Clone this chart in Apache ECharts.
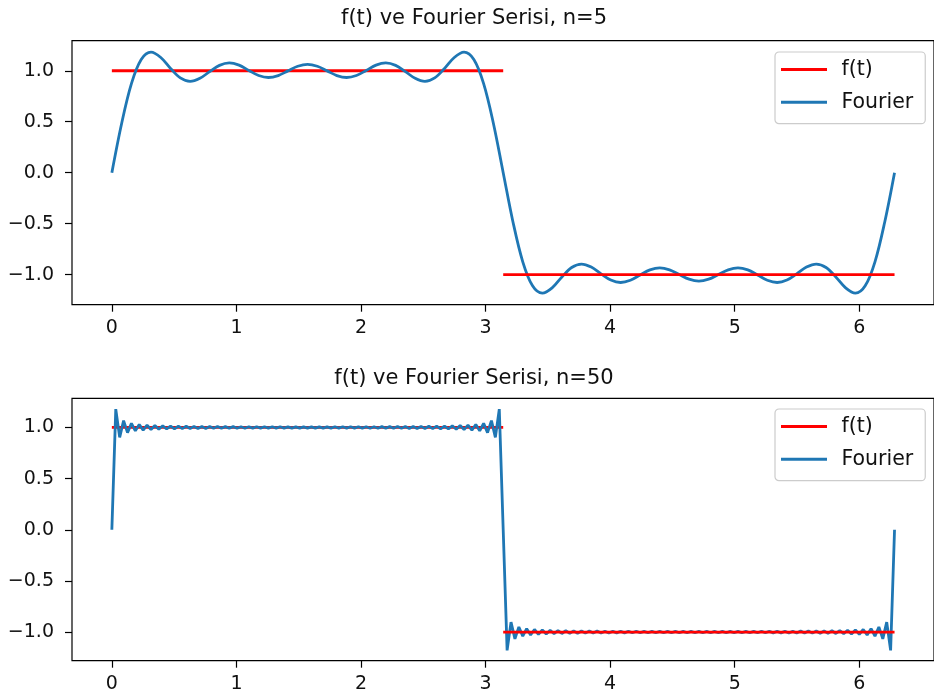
<!DOCTYPE html>
<html><head><meta charset="utf-8">
<script src="https://cdn.jsdelivr.net/npm/echarts@6/dist/echarts.min.js"></script>
<style>html,body{margin:0;padding:0;background:#fff}#c{width:934px;height:698px}</style>
</head><body><div id="c"></div>
<script>
// ---- data ----
const titles = ['f(t) ve Fourier Serisi, n=5', 'f(t) ve Fourier Serisi, n=50'];
const legendNames = ['f(t)', 'Fourier'];
const xTicks = [0, 1, 2, 3, 4, 5, 6];
const yTicks = [-1, -0.5, 0, 0.5, 1];
// f(t): square wave, two level pieces
const fT1 = [0, 3.1416];
const fY1 = [1, 1];
const fT2 = [3.1416, 6.2832];
const fY2 = [-1, -1];
// Fourier partial sum, n=5
const t5 = [0,0.0785,0.1571,0.2356,0.3142,0.3927,0.4712,0.5498,0.6283,0.7069,0.7854,0.8639,0.9425,1.0210,1.0996,1.1781,1.2566,1.3352,1.4137,1.4923,1.5708,1.6493,1.7279,1.8064,1.8850,1.9635,2.0420,2.1206,2.1991,2.2777,2.3562,2.4347,2.5133,2.5918,2.6704,2.7489,2.8274,2.9060,2.9845,3.0631,3.1416,3.2201,3.2987,3.3772,3.4558,3.5343,3.6128,3.6914,3.7699,3.8485,3.9270,4.0055,4.0841,4.1626,4.2412,4.3197,4.3982,4.4768,4.5553,4.6339,4.7124,4.7909,4.8695,4.9480,5.0265,5.1051,5.1836,5.2622,5.3407,5.4193,5.4978,5.5763,5.6549,5.7334,5.8119,5.8905,5.9690,6.0476,6.1261,6.2046,6.2832];
const y5 = [0,0.483,0.874,1.110,1.182,1.130,1.023,0.930,0.896,0.926,0.992,1.053,1.077,1.055,1.003,0.954,0.934,0.953,0.999,1.044,1.063,
1.044,0.999,0.953,0.934,0.954,1.003,1.055,1.077,1.053,0.992,0.926,0.896,0.930,1.023,1.130,1.182,1.110,0.874,0.483,0,
-0.483,-0.874,-1.110,-1.182,-1.130,-1.023,-0.930,-0.896,-0.926,-0.992,-1.053,-1.077,-1.055,-1.003,-0.954,-0.934,-0.953,-0.999,-1.044,-1.063,
-1.044,-0.999,-0.953,-0.934,-0.954,-1.003,-1.055,-1.077,-1.053,-0.992,-0.926,-0.896,-0.930,-1.023,-1.130,-1.182,-1.110,-0.874,-0.483,0];
// Fourier partial sum, n=50 (ripple extrema)
const t50 = [0,0.0314,0.0628,0.0942,0.1257,0.1571,0.1885,0.2199,0.2513,0.2827,0.3142,0.3456,0.3770,0.4084,0.4398,0.4712,0.5027,0.5341,0.5655,0.5969,0.6283,0.6597,0.6912,0.7226,0.7540,0.7854,0.8168,0.8482,0.8796,0.9111,0.9425,0.9739,1.0053,1.0367,1.0681,1.0996,1.1310,1.1624,1.1938,1.2252,1.2566,1.2881,1.3195,1.3509,1.3823,1.4137,1.4451,1.4765,1.5080,1.5394,1.5708,1.6022,1.6336,1.6650,1.6965,1.7279,1.7593,1.7907,1.8221,1.8535,1.8850,1.9164,1.9478,1.9792,2.0106,2.0420,2.0735,2.1049,2.1363,2.1677,2.1991,2.2305,2.2619,2.2934,2.3248,2.3562,2.3876,2.4190,2.4504,2.4819,2.5133,2.5447,2.5761,2.6075,2.6389,2.6704,2.7018,2.7332,2.7646,2.7960,2.8274,2.8588,2.8903,2.9217,2.9531,2.9845,3.0159,3.0473,3.0788,3.1102,3.1416,
3.1730,3.2044,3.2358,3.2673,3.2987,3.3301,3.3615,3.3929,3.4243,3.4558,3.4872,3.5186,3.5500,3.5814,3.6128,3.6442,3.6757,3.7071,3.7385,3.7699,3.8013,3.8327,3.8642,3.8956,3.9270,3.9584,3.9898,4.0212,4.0527,4.0841,4.1155,4.1469,4.1783,4.2097,4.2412,4.2726,4.3040,4.3354,4.3668,4.3982,4.4296,4.4611,4.4925,4.5239,4.5553,4.5867,4.6181,4.6496,4.6810,4.7124,4.7438,4.7752,4.8066,4.8381,4.8695,4.9009,4.9323,4.9637,4.9951,5.0265,5.0580,5.0894,5.1208,5.1522,5.1836,5.2150,5.2465,5.2779,5.3093,5.3407,5.3721,5.4035,5.4350,5.4664,5.4978,5.5292,5.5606,5.5920,5.6235,5.6549,5.6863,5.7177,5.7491,5.7805,5.8119,5.8434,5.8748,5.9062,5.9376,5.9690,6.0004,6.0319,6.0633,6.0947,6.1261,6.1575,6.1889,6.2204,6.2518,6.2832];
const y50 = [0,1.1790,0.9028,1.0662,0.9499,1.0402,0.9664,1.0288,0.9744,1.0228,0.9794,1.0188,0.9827,1.0160,0.9850,1.0140,0.9868,1.0125,0.9881,1.0113,0.9892,1.0104,0.9900,1.0096,0.9907,1.0090,0.9913,1.0085,0.9917,1.0081,0.9921,1.0077,0.9925,1.0074,0.9927,1.0071,0.9930,1.0069,0.9932,1.0068,0.9933,1.0066,0.9934,1.0065,0.9935,1.0064,0.9936,1.0064,0.9936,1.0064,0.9936,
1.0064,0.9936,1.0064,0.9936,1.0064,0.9935,1.0065,0.9934,1.0066,0.9933,1.0068,0.9932,1.0069,0.9930,1.0071,0.9927,1.0074,0.9925,1.0077,0.9921,1.0081,0.9917,1.0085,0.9913,1.0090,0.9907,1.0096,0.9900,1.0104,0.9892,1.0113,0.9881,1.0125,0.9868,1.0140,0.9850,1.0160,0.9827,1.0188,0.9794,1.0228,0.9744,1.0288,0.9664,1.0402,0.9499,1.0662,0.9028,1.1790,0,
-1.1790,-0.9028,-1.0662,-0.9499,-1.0402,-0.9664,-1.0288,-0.9744,-1.0228,-0.9794,-1.0188,-0.9827,-1.0160,-0.9850,-1.0140,-0.9868,-1.0125,-0.9881,-1.0113,-0.9892,-1.0104,-0.9900,-1.0096,-0.9907,-1.0090,-0.9913,-1.0085,-0.9917,-1.0081,-0.9921,-1.0077,-0.9925,-1.0074,-0.9927,-1.0071,-0.9930,-1.0069,-0.9932,-1.0068,-0.9933,-1.0066,-0.9934,-1.0065,-0.9935,-1.0064,-0.9936,-1.0064,-0.9936,-1.0064,-0.9936,
-1.0064,-0.9936,-1.0064,-0.9936,-1.0064,-0.9935,-1.0065,-0.9934,-1.0066,-0.9933,-1.0068,-0.9932,-1.0069,-0.9930,-1.0071,-0.9927,-1.0074,-0.9925,-1.0077,-0.9921,-1.0081,-0.9917,-1.0085,-0.9913,-1.0090,-0.9907,-1.0096,-0.9900,-1.0104,-0.9892,-1.0113,-0.9881,-1.0125,-0.9868,-1.0140,-0.9850,-1.0160,-0.9827,-1.0188,-0.9794,-1.0228,-0.9744,-1.0288,-0.9664,-1.0402,-0.9499,-1.0662,-0.9028,-1.1790,0];

// ---- build ----
const FONT = 'DejaVu Sans';
const RED = '#ff0000', BLUE = '#1f77b4';
const zip = (a, b) => a.map((v, i) => [v, b[i]]);
const fmtY = v => (v < 0 ? '\u2212' : '') + Math.abs(v).toFixed(1);

const grids = [
  {left: 72, top: 40.7, width: 867, height: 264},
  {left: 72, top: 398.3, width: 867, height: 262.4}
];
const yRanges = [[-1.295, 1.295], [-1.28, 1.285]];
const titleTops = [3, 363];
const legendTops = [52, 409];
const fourier = [[t5, y5], [t50, y50]];

const option = {
  animation: false,
  backgroundColor: '#fff',
  title: titles.map((t, i) => ({
    text: t, left: 469, top: titleTops[i], textAlign: 'center',
    textStyle: {fontFamily: FONT, fontSize: 21, fontWeight: 'normal', color: '#111'}
  })),
  legend: legendTops.map((top, i) => ({
    data: legendNames, orient: 'vertical', left: 775, top: top,
    icon: 'rect', itemWidth: 46, itemHeight: 3, itemGap: 11.7,
    padding: [7, 12, 11, 6],
    borderColor: '#cccccc', borderWidth: 1.2, borderRadius: 4,
    backgroundColor: 'rgba(255,255,255,0.8)',
    formatter: '{n|{name}}',
    textStyle: {fontFamily: FONT, fontSize: 20.5, color: '#111', lineHeight: 20,
      rich: {n: {fontFamily: FONT, fontSize: 20.5, color: '#111', lineHeight: 20, padding: [0, 0, 0, 9.5]}}},
    selectedMode: false
  })),
  grid: grids.map(g => Object.assign({show: true, borderColor: '#000', borderWidth: 1.2, backgroundColor: 'transparent'}, g)),
  xAxis: grids.map((g, i) => ({
    type: 'value', gridIndex: i, min: -0.32, max: 6.6,
    axisLine: {show: false, onZero: false}, splitLine: {show: false},
    axisTick: {show: true, length: 7, lineStyle: {color: '#000', width: 1.2}, customValues: xTicks},
    axisLabel: {customValues: xTicks, margin: 14, fontFamily: FONT, fontSize: 19, color: '#111',
      formatter: v => String(v)}
  })),
  yAxis: grids.map((g, i) => ({
    type: 'value', gridIndex: i, min: yRanges[i][0], max: yRanges[i][1],
    axisLine: {show: false, onZero: false}, splitLine: {show: false},
    axisTick: {show: true, length: 7, lineStyle: {color: '#000', width: 1.2}, customValues: yTicks},
    axisLabel: {customValues: yTicks, margin: 18, fontFamily: FONT, fontSize: 19, color: '#111',
      formatter: fmtY}
  })),
  series: []
};

[0, 1].forEach(i => {
  const base = {type: 'line', xAxisIndex: i, yAxisIndex: i, symbol: 'none', showSymbol: false, silent: true};
  option.series.push(Object.assign({}, base, {name: 'f(t)', color: RED, data: zip(fT1, fY1), lineStyle: {color: RED, width: 2.8}}));
  option.series.push(Object.assign({}, base, {name: 'Fourier', color: BLUE, data: zip(fourier[i][0], fourier[i][1]),
    smooth: i === 0 ? 0.35 : false, lineStyle: {color: BLUE, width: 2.8}}));
  option.series.push(Object.assign({}, base, {name: 'f(t)', color: RED, data: zip(fT2, fY2), lineStyle: {color: RED, width: 2.8}}));
});

const chart = echarts.init(document.getElementById('c'), null, {renderer: 'canvas'});
chart.setOption(option);
</script>
</body></html>
